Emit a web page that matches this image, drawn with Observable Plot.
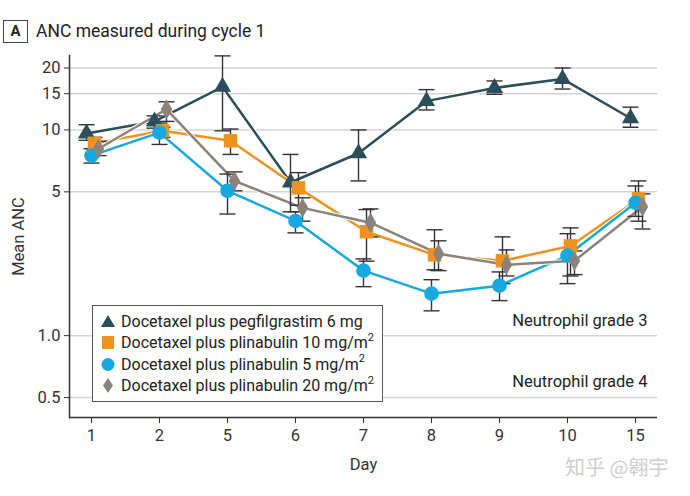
<!DOCTYPE html>
<html>
<head>
<meta charset="utf-8">
<script src="https://cdn.jsdelivr.net/npm/d3@7"></script>
<script src="https://cdn.jsdelivr.net/npm/@observablehq/plot@0.6"></script>
<style>
  html, body { margin: 0; padding: 0; background: #fff; }
  body { width: 690px; height: 496px; position: relative; font-family: Roboto, "Noto Sans", sans-serif; color: #222; overflow: hidden; }
  #title { position: absolute; left: 0; top: 0; width: 690px; height: 48px; }
  #badge { position: absolute; left: 3px; top: 20px; width: 23px; height: 21px; border: 1.5px solid #444; font-weight: bold; font-size: 15px; line-height: 21px; text-align: center; }
  #ttext { position: absolute; left: 36px; top: 20px; font-size: 17.5px; line-height: 22px; color: #222; }
  #chart { position: absolute; left: 0; top: 48px; }
  #legend { position: absolute; left: 92px; top: 305px; width: 291px; height: 97px; border: 1.5px solid #555; background: #fff; box-sizing: border-box; }
  .lrow { position: absolute; left: 8px; height: 20px; font-size: 16px; line-height: 20px; white-space: nowrap; color: #222; }
  .lrow svg { position: absolute; left: 0; top: 2px; }
  .lrow span { position: absolute; left: 20px; top: 0; }
  sup { font-size: 11px; line-height: 0; position: relative; top: -1px; vertical-align: super; }
  #wm { position: absolute; left: 565px; top: 452px; font-size: 20px; color: #cfcfcf; font-family: "Noto Sans CJK SC", sans-serif; }
</style>
</head>
<body>
<div id="title"><div id="badge">A</div><div id="ttext"></div></div>
<div id="chart"></div>
<div id="legend"></div>
<div id="wm"></div>
<script>
// ---- data ----
const titleText = "ANC measured during cycle 1";
const days = ["1", "2", "5", "6", "7", "8", "9", "10", "15"];
const seriesNames = [
  "Docetaxel plus pegfilgrastim 6 mg",
  "Docetaxel plus plinabulin 10 mg/m2",
  "Docetaxel plus plinabulin 5 mg/m2",
  "Docetaxel plus plinabulin 20 mg/m2"
];
const pegMean  = [9.6, 11.0, 16.2, 5.55, 7.7, 13.8, 16.0, 17.7, 11.4];
const pegLo    = [8.9, 10.2, 9.9, 4.0, 5.65, 12.5, 14.9, 15.8, 10.3];
const pegHi    = [10.6, 11.7, 22.9, 7.6, 10.0, 15.7, 17.3, 20.0, 12.9];
const pl10Mean = [8.6, 9.9, 8.85, 5.23, 3.2, 2.47, 2.31, 2.73, 4.62];
const pl10Lo   = [8.1, 9.2, 7.6, 4.3, 2.3, 2.09, 1.79, 1.95, 3.6];
const pl10Hi   = [9.2, 10.3, 10.1, 6.2, 4.1, 3.27, 3.02, 3.34, 5.65];
const pl5Mean  = [7.5, 9.7, 5.06, 3.61, 2.07, 1.6, 1.75, 2.45, 4.42];
const pl5Lo    = [6.9, 8.5, 3.9, 3.16, 1.73, 1.32, 1.48, 1.79, 3.8];
const pl5Hi    = [8.1, 10.8, 6.1, 4.0, 2.36, 1.87, 2.04, 3.13, 5.34];
const pl20Mean = [8.1, 12.6, 5.65, 4.18, 3.54, 2.5, 2.21, 2.31, 4.23];
const pl20Lo   = [7.5, 11.0, 5.06, 3.6, 3.02, 2.07, 1.95, 1.98, 3.3];
const pl20Hi   = [8.8, 13.7, 6.25, 4.68, 4.13, 2.89, 2.61, 2.58, 4.89];
const yTicks = [0.5, 1, 5, 10, 15, 20];
const gradeLabels = ["Neutrophil grade 3", "Neutrophil grade 4"];
const gradeY = [1.18, 0.6];
const watermark = "知乎 @翱宇";

// ---- styles ----
const styles = [
  {symbol: "triangle", color: "#2b4e5b", r: 6.4, dx: -5},
  {symbol: "square",   color: "#ef9320", r: 7.6, dx: 3},
  {symbol: "circle",   color: "#18a8e0", r: 7.3, dx: 0},
  {symbol: "diamond",  color: "#8b8279", r: 6.0, dx: 7}
];
const allMeans = [pegMean, pl10Mean, pl5Mean, pl20Mean];
const allLo = [pegLo, pl10Lo, pl5Lo, pl20Lo];
const allHi = [pegHi, pl10Hi, pl5Hi, pl20Hi];

const series = seriesNames.map((name, s) => days.map((d, i) => ({
  series: name, day: d, mean: allMeans[s][i], lo: allLo[s][i], hi: allHi[s][i]
})));

const capSymbol = {draw(ctx) { ctx.moveTo(-8, 0); ctx.lineTo(8, 0); }};

document.getElementById("ttext").textContent = titleText;
document.getElementById("wm").textContent = watermark;

const marks = [
  Plot.gridY(yTicks, {stroke: "#d4d4d4", strokeOpacity: 1, strokeWidth: 1.5}),
  Plot.axisY(yTicks, {
    tickFormat: d => d < 1.5 ? d.toFixed(1) : String(d),
    tickSize: 5, tickPadding: 4, fontSize: 16.5, stroke: "#333", fill: "#333",
    label: "Mean ANC", labelAnchor: "center", labelArrow: "none", labelOffset: 57
  }),
  Plot.axisX(days, {tickSize: 6, tickPadding: 6, fontSize: 16.5, stroke: "#333", fill: "#333",
    label: "Day", labelAnchor: "center", labelArrow: "none", labelOffset: 52}),
  Plot.ruleY([0.4], {stroke: "#333", strokeWidth: 1.5}),
  Plot.frame({anchor: "left", stroke: "#333", strokeWidth: 1.5})
];

styles.forEach((st, s) => {
  marks.push(Plot.line(series[s], {x: "day", y: "mean", stroke: "#fff", strokeWidth: 4.5, dx: st.dx}));
  marks.push(Plot.line(series[s], {x: "day", y: "mean", stroke: st.color, strokeWidth: 2.5, dx: st.dx}));
});
styles.forEach((st, s) => {
  marks.push(Plot.ruleX(series[s], {x: "day", y1: "lo", y2: "hi", stroke: "#333", strokeWidth: 1.4, dx: st.dx}));
  marks.push(Plot.dot(series[s], {x: "day", y: "lo", symbol: capSymbol, stroke: "#333", strokeWidth: 1.4, fill: "none", dx: st.dx}));
  marks.push(Plot.dot(series[s], {x: "day", y: "hi", symbol: capSymbol, stroke: "#333", strokeWidth: 1.4, fill: "none", dx: st.dx}));
});
styles.forEach((st, s) => {
  marks.push(Plot.dot(series[s], {x: "day", y: "mean", symbol: st.symbol, r: st.r, fill: st.color, stroke: "none", dx: st.dx}));
});
marks.push(Plot.text(gradeLabels, {y: (d, i) => gradeY[i], text: d => d, frameAnchor: "right", textAnchor: "end", dx: -10, fontSize: 16.5, fill: "#222"}));

const chart = Plot.plot({
  width: 690, height: 440,
  marginLeft: 69, marginRight: 33, marginTop: 7, marginBottom: 71,
  style: {fontFamily: "Roboto, 'Noto Sans', sans-serif", fontSize: "16.5px", color: "#222", background: "#fff"},
  x: {type: "point", domain: days, padding: 0.3},
  y: {type: "log", domain: [0.4, 23]},
  marks
});
document.getElementById("chart").appendChild(chart);

// legend
const legend = document.getElementById("legend");
const symPaths = {
  triangle: '<path d="M7 1 L14 13 L0 13 Z"/>',
  square: '<rect x="1" y="1" width="12" height="13"/>',
  circle: '<circle cx="7" cy="7.5" r="6.5"/>',
  diamond: '<path d="M7 0 L12 7.5 L7 15 L2 7.5 Z"/>'
};
seriesNames.forEach((name, s) => {
  const row = document.createElement("div");
  row.className = "lrow";
  row.style.top = (6 + s * 21.3) + "px";
  const label = name.endsWith("m2") ? name.slice(0, -1) + "<sup>2</sup>" : name;
  row.innerHTML = `<svg width="14" height="16" fill="${styles[s].color}">${symPaths[styles[s].symbol]}</svg><span>${label}</span>`;
  legend.appendChild(row);
});
</script>
</body>
</html>
